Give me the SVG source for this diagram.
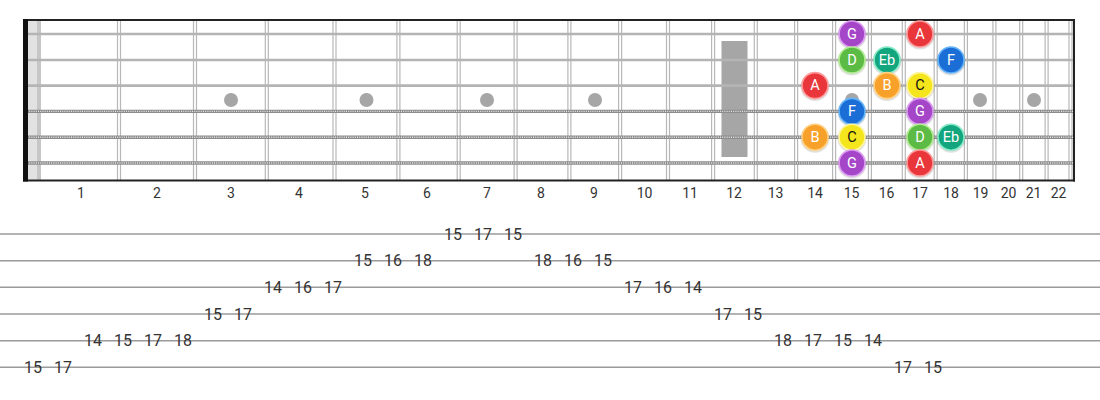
<svg xmlns="http://www.w3.org/2000/svg" width="1100" height="400" viewBox="0 0 1100 400">
<style>
.fret{stroke:#b8b8b8;stroke-width:1.2;fill:none}
.plain{stroke:#b4b4b4;stroke-width:2.6}
.wound{stroke:#8c8c8c;stroke-width:3.4}
.woundtex{stroke:#e6e6e6;stroke-width:1.4;stroke-dasharray:1 1.2}
.dot{fill:#a6a6a6}
.fnum{font-family:Roboto,"Liberation Sans",sans-serif;font-size:14px;fill:#333;text-anchor:middle}
.tabline{stroke:#9a9a9a;stroke-width:1.4}
.tab{font-family:Roboto,"Liberation Sans",sans-serif;font-size:16px;fill:#333;text-anchor:middle;dominant-baseline:central}
.nt{font-family:Roboto,"Liberation Sans",sans-serif;font-size:14.5px;fill:#fff;text-anchor:middle;dominant-baseline:central}
.dark{fill:#111}
.sh{fill:#000;fill-opacity:0.12}
.G{fill:#a545c8;stroke:#dc9cf2;stroke-width:1.6}
.A{fill:#e8363a;stroke:#ff9a9a;stroke-width:1.6}
.D{fill:#5cbb45;stroke:#b0ec90;stroke-width:1.6}
.Eb{fill:#13a67e;stroke:#86ecc8;stroke-width:1.6}
.F{fill:#1a6ed6;stroke:#66b4f8;stroke-width:1.6}
.B{fill:#f7a02a;stroke:#ffd283;stroke-width:1.6}
.C{fill:#f5e51c;stroke:#fff7a0;stroke-width:1.6}
</style>
<rect width="1100" height="400" fill="#fff"/>
<g id="fretboard">
  <rect x="28" y="20" width="9" height="160" fill="#e2e2e2"/>
  <rect x="37" y="20" width="4" height="160" fill="#c6c6c6"/>
  <g id="frets">
    <path class="fret" d="M117.5 20V180M120.5 20V180M193.5 20V180M196.5 20V180M265.3 20V180M268.3 20V180M333 20V180M336 20V180M396.9 20V180M399.9 20V180M457.2 20V180M460.2 20V180M514.1 20V180M517.1 20V180M567.9 20V180M570.9 20V180M618.6 20V180M621.6 20V180M666.5 20V180M669.5 20V180M711.6 20V180M714.6 20V180M754.3 20V180M757.3 20V180M794.6 20V180M797.6 20V180M832.6 20V180M835.6 20V180M868.4 20V180M871.4 20V180M902.3 20V180M905.3 20V180M934.2 20V180M937.2 20V180M964.4 20V180M967.4 20V180M992.9 20V180M995.9 20V180M1019.7 20V180M1022.7 20V180M1045.1 20V180M1048.1 20V180M1069 20V180M1072 20V180"/>
  </g>
  <g id="inlays">
    <circle class="dot" cx="231" cy="100" r="7"/>
    <circle class="dot" cx="366.5" cy="100" r="7"/>
    <circle class="dot" cx="487" cy="100" r="7"/>
    <circle class="dot" cx="595" cy="100" r="7"/>
    <rect class="dot" x="721.5" y="41" width="26" height="116"/>
    <circle class="dot" cx="852" cy="100" r="7"/>
    <circle class="dot" cx="920" cy="100" r="7"/>
    <circle class="dot" cx="980" cy="100" r="7"/>
    <circle class="dot" cx="1034" cy="100" r="7"/>
  </g>
  <g id="strings">
    <line class="plain" x1="27" y1="34" x2="1074" y2="34"/>
    <line class="plain" x1="27" y1="60" x2="1074" y2="60"/>
    <line class="plain" x1="27" y1="85.6" x2="1074" y2="85.6"/>
    <line class="wound" x1="27" y1="111.4" x2="1074" y2="111.4"/>
    <line class="woundtex" x1="27" y1="111.4" x2="1074" y2="111.4"/>
    <line class="wound" x1="27" y1="137.2" x2="1074" y2="137.2"/>
    <line class="woundtex" x1="27" y1="137.2" x2="1074" y2="137.2"/>
    <line class="wound" x1="27" y1="163" x2="1074" y2="163"/>
    <line class="woundtex" x1="27" y1="163" x2="1074" y2="163"/>
  </g>
  <line x1="23" y1="20" x2="1075" y2="20" stroke="#222" stroke-width="2"/>
  <line x1="23" y1="180.5" x2="1075" y2="180.5" stroke="#222" stroke-width="2"/>
  <rect x="23" y="19" width="5" height="162.5" fill="#111"/>
  <line x1="1074" y1="19" x2="1074" y2="181.5" stroke="#222" stroke-width="2"/>
</g>
<g id="fret-numbers">
  <text class="fnum" x="81" y="198">1</text>
  <text class="fnum" x="157" y="198">2</text>
  <text class="fnum" x="231" y="198">3</text>
  <text class="fnum" x="299" y="198">4</text>
  <text class="fnum" x="365" y="198">5</text>
  <text class="fnum" x="427" y="198">6</text>
  <text class="fnum" x="487" y="198">7</text>
  <text class="fnum" x="541" y="198">8</text>
  <text class="fnum" x="594" y="198">9</text>
  <text class="fnum" x="644.5" y="198">10</text>
  <text class="fnum" x="690" y="198">11</text>
  <text class="fnum" x="734" y="198">12</text>
  <text class="fnum" x="775.5" y="198">13</text>
  <text class="fnum" x="815" y="198">14</text>
  <text class="fnum" x="851.5" y="198">15</text>
  <text class="fnum" x="886.5" y="198">16</text>
  <text class="fnum" x="920" y="198">17</text>
  <text class="fnum" x="951" y="198">18</text>
  <text class="fnum" x="980.5" y="198">19</text>
  <text class="fnum" x="1008.5" y="198">20</text>
  <text class="fnum" x="1033.5" y="198">21</text>
  <text class="fnum" x="1058.5" y="198">22</text>
</g>
<g id="notes">
  <g id="n1-15"><circle class="sh" cx="852" cy="35" r="14.5"/><circle class="G" cx="852" cy="34" r="13"/><text class="nt" x="852" y="34">G</text></g>
  <g id="n1-17"><circle class="sh" cx="920" cy="35" r="14.5"/><circle class="A" cx="920" cy="34" r="13"/><text class="nt" x="920" y="34">A</text></g>
  <g id="n2-15"><circle class="sh" cx="852" cy="61" r="14.5"/><circle class="D" cx="852" cy="60" r="13"/><text class="nt" x="852" y="60">D</text></g>
  <g id="n2-16"><circle class="sh" cx="887" cy="61" r="14.5"/><circle class="Eb" cx="887" cy="60" r="13"/><text class="nt" x="887" y="60">Eb</text></g>
  <g id="n2-18"><circle class="sh" cx="951" cy="61" r="14.5"/><circle class="F" cx="951" cy="60" r="13"/><text class="nt" x="951" y="60">F</text></g>
  <g id="n3-14"><circle class="sh" cx="815" cy="86.6" r="14.5"/><circle class="A" cx="815" cy="85.6" r="13"/><text class="nt" x="815" y="85.6">A</text></g>
  <g id="n3-16"><circle class="sh" cx="887" cy="86.6" r="14.5"/><circle class="B" cx="887" cy="85.6" r="13"/><text class="nt" x="887" y="85.6">B</text></g>
  <g id="n3-17"><circle class="sh" cx="920" cy="86.6" r="14.5"/><circle class="C" cx="920" cy="85.6" r="13"/><text class="nt dark" x="920" y="85.6">C</text></g>
  <g id="n4-15"><circle class="sh" cx="852" cy="112.4" r="14.5"/><circle class="F" cx="852" cy="111.4" r="13"/><text class="nt" x="852" y="111.4">F</text></g>
  <g id="n4-17"><circle class="sh" cx="920" cy="112.4" r="14.5"/><circle class="G" cx="920" cy="111.4" r="13"/><text class="nt" x="920" y="111.4">G</text></g>
  <g id="n5-14"><circle class="sh" cx="815" cy="138.2" r="14.5"/><circle class="B" cx="815" cy="137.2" r="13"/><text class="nt" x="815" y="137.2">B</text></g>
  <g id="n5-15"><circle class="sh" cx="852" cy="138.2" r="14.5"/><circle class="C" cx="852" cy="137.2" r="13"/><text class="nt dark" x="852" y="137.2">C</text></g>
  <g id="n5-17"><circle class="sh" cx="920" cy="138.2" r="14.5"/><circle class="D" cx="920" cy="137.2" r="13"/><text class="nt" x="920" y="137.2">D</text></g>
  <g id="n5-18"><circle class="sh" cx="951" cy="138.2" r="14.5"/><circle class="Eb" cx="951" cy="137.2" r="13"/><text class="nt" x="951" y="137.2">Eb</text></g>
  <g id="n6-15"><circle class="sh" cx="852" cy="164" r="14.5"/><circle class="G" cx="852" cy="163" r="13"/><text class="nt" x="852" y="163">G</text></g>
  <g id="n6-17"><circle class="sh" cx="920" cy="164" r="14.5"/><circle class="A" cx="920" cy="163" r="13"/><text class="nt" x="920" y="163">A</text></g>
</g>
<g id="tab">
  <g id="tab-lines">
    <line class="tabline" x1="0" y1="234" x2="1100" y2="234"/>
    <line class="tabline" x1="0" y1="260.7" x2="1100" y2="260.7"/>
    <line class="tabline" x1="0" y1="287.3" x2="1100" y2="287.3"/>
    <line class="tabline" x1="0" y1="314" x2="1100" y2="314"/>
    <line class="tabline" x1="0" y1="340.7" x2="1100" y2="340.7"/>
    <line class="tabline" x1="0" y1="367.3" x2="1100" y2="367.3"/>
  </g>
  <g id="tab-numbers">
    <text class="tab" x="33" y="367.3">15</text>
    <text class="tab" x="63" y="367.3">17</text>
    <text class="tab" x="93" y="340.7">14</text>
    <text class="tab" x="123" y="340.7">15</text>
    <text class="tab" x="153" y="340.7">17</text>
    <text class="tab" x="183" y="340.7">18</text>
    <text class="tab" x="213" y="314">15</text>
    <text class="tab" x="243" y="314">17</text>
    <text class="tab" x="273" y="287.3">14</text>
    <text class="tab" x="303" y="287.3">16</text>
    <text class="tab" x="333" y="287.3">17</text>
    <text class="tab" x="363" y="260.7">15</text>
    <text class="tab" x="393" y="260.7">16</text>
    <text class="tab" x="423" y="260.7">18</text>
    <text class="tab" x="453" y="234">15</text>
    <text class="tab" x="483" y="234">17</text>
    <text class="tab" x="513" y="234">15</text>
    <text class="tab" x="543" y="260.7">18</text>
    <text class="tab" x="573" y="260.7">16</text>
    <text class="tab" x="603" y="260.7">15</text>
    <text class="tab" x="633" y="287.3">17</text>
    <text class="tab" x="663" y="287.3">16</text>
    <text class="tab" x="693" y="287.3">14</text>
    <text class="tab" x="723" y="314">17</text>
    <text class="tab" x="753" y="314">15</text>
    <text class="tab" x="783" y="340.7">18</text>
    <text class="tab" x="813" y="340.7">17</text>
    <text class="tab" x="843" y="340.7">15</text>
    <text class="tab" x="873" y="340.7">14</text>
    <text class="tab" x="903" y="367.3">17</text>
    <text class="tab" x="933" y="367.3">15</text>
  </g>
</g>
</svg>
